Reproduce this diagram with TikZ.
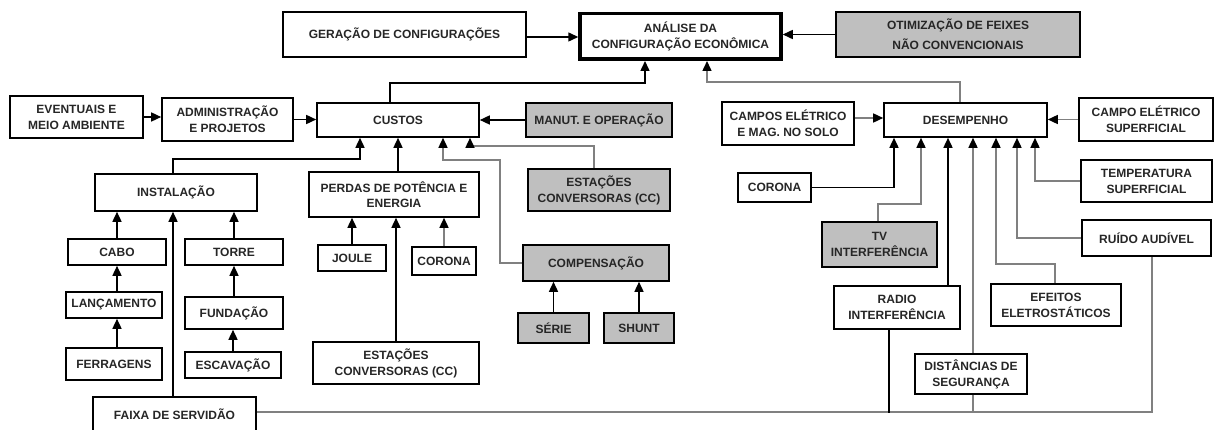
\documentclass[tikz,border=0pt]{standalone}
\usepackage{fontspec}
\setmainfont{Liberation Sans}
\usetikzlibrary{arrows.meta}
\tikzset{
 box/.style={draw, line width=1.6pt, fill=white, inner sep=0pt, align=center, font=\fontsize{12}{16}\selectfont\bfseries, text=black!85},
 gbox/.style={box, fill=black!25},
 arr/.style={line width=1.5pt, -{Triangle[width=9pt,length=10pt]}},
 garr/.style={line width=1.5pt, draw=black!50, -{Triangle[width=9pt,length=10pt,color=black]}},
 bline/.style={line width=1.5pt},
 gline/.style={line width=1.5pt, draw=black!50},
}
\begin{document}
\begin{tikzpicture}[x=1pt,y=-1pt]
\useasboundingbox (0,0) rectangle (1218,430);
\clip (0,0) rectangle (1218,430);
% top row
\node[box, minimum width=243pt, minimum height=45pt] (ger) at (404.5,34.5) {GERAÇÃO DE CONFIGURAÇÕES};
\node[box, line width=3.5pt, minimum width=201pt, minimum height=45.5pt] (ana) at (680.5,36.5) {ANÁLISE DA\\CONFIGURAÇÃO ECONÔMICA};
\node[gbox, minimum width=244pt, minimum height=45pt, font=\fontsize{12}{20}\selectfont\bfseries] (oti) at (958,34.5) {OTIMIZAÇÃO DE FEIXES\\NÃO CONVENCIONAIS};
% second row
\node[box, minimum width=133pt, minimum height=42pt] (eve) at (76.5,117) {EVENTUAIS E\\MEIO AMBIENTE};
\node[box, minimum width=131pt, minimum height=43pt] (adm) at (227.5,119.5) {ADMINISTRAÇÃO\\E PROJETOS};
\node[box, minimum width=162pt, minimum height=34pt] (cus) at (398,120) {CUSTOS};
\node[gbox, minimum width=146pt, minimum height=34pt] (man) at (599,120) {MANUT. E OPERAÇÃO};
\node[box, minimum width=132pt, minimum height=43pt] (cam) at (788,123.5) {CAMPOS ELÉTRICO\\E MAG. NO SOLO};
\node[box, minimum width=163pt, minimum height=34pt] (des) at (965.5,120) {DESEMPENHO};
\node[box, minimum width=134pt, minimum height=43pt] (cas) at (1146,119.5) {CAMPO ELÉTRICO\\SUPERFICIAL};
% third row
\node[box, minimum width=162pt, minimum height=37pt] (ins) at (176,192.5) {INSTALAÇÃO};
\node[box, minimum width=170pt, minimum height=45pt, font=\fontsize{12}{15}\selectfont\bfseries] (per) at (394,194.5) {PERDAS DE POTÊNCIA E\\ENERGIA};
\node[gbox, minimum width=142pt, minimum height=42pt] (est1) at (599,190) {ESTAÇÕES\\CONVERSORAS (CC)};
\node[box, minimum width=73pt, minimum height=29pt] (cor2) at (774.5,187.5) {CORONA};
\node[box, minimum width=131pt, minimum height=42pt] (tem) at (1146.5,181) {TEMPERATURA\\SUPERFICIAL};
% lower left
\node[box, minimum width=98pt, minimum height=26pt] (cabo) at (117,252) {CABO};
\node[box, minimum width=98pt, minimum height=26pt] (torre) at (234,252) {TORRE};
\node[box, minimum width=96pt, minimum height=26pt] (lan) at (114,305) {LANÇAMENTO};
\node[box, minimum width=98pt, minimum height=32pt] (fun) at (234,313) {FUNDAÇÃO};
\node[box, minimum width=96pt, minimum height=32pt] (fer) at (114,364) {FERRAGENS};
\node[box, minimum width=96pt, minimum height=26pt] (esc) at (233,365) {ESCAVAÇÃO};
\node[box, minimum width=163pt, minimum height=34pt] (fai) at (174.5,414) {FAIXA DE SERVIDÃO};
% lower middle
\node[box, minimum width=68pt, minimum height=26pt] (jou) at (352,258) {JOULE};
\node[box, minimum width=64pt, minimum height=28pt] (cor1) at (444,261) {CORONA};
\node[box, minimum width=166pt, minimum height=42pt] (est2) at (396,363) {ESTAÇÕES\\CONVERSORAS (CC)};
\node[gbox, minimum width=146pt, minimum height=36pt] (comp) at (596,263) {COMPENSAÇÃO};
\node[gbox, minimum width=71pt, minimum height=30pt] (ser) at (553.5,328) {SÉRIE};
\node[gbox, minimum width=70pt, minimum height=30pt] (shu) at (639,328) {SHUNT};
% lower right
\node[gbox, minimum width=115pt, minimum height=45pt] (tv) at (879.5,244.5) {TV\\INTERFERÊNCIA};
\node[box, minimum width=126pt, minimum height=43pt] (rad) at (897,307.5) {RADIO\\INTERFERÊNCIA};
\node[box, minimum width=112pt, minimum height=40pt] (dis) at (971,374) {DISTÂNCIAS DE\\SEGURANÇA};
\node[box, minimum width=130pt, minimum height=42pt] (efe) at (1056,305) {EFEITOS\\ELETROSTÁTICOS};
\node[box, minimum width=129pt, minimum height=36pt] (rui) at (1146.5,238) {RUÍDO AUDÍVEL};
% connectors
\draw[arr] (eve.east) -- (eve.east -| adm.west);
\draw[arr] (adm.east) -- (adm.east -| cus.west);
\draw[arr] ([yshift=-2.5pt]ger.east) -- ([yshift=-2.5pt]ger.east -| ana.west);
\draw[arr] (oti.west) -- (oti.west -| ana.east);
\draw[arr] ([xshift=-8pt]cus.north) -- ++(0,-19) -| ([xshift=-35.5pt]ana.south);
\draw[garr] ([xshift=-5.5pt]des.north) -- ++(0,-20) -| ([xshift=26.5pt]ana.south);
\draw[arr] (man.west) -- (man.west -| cus.east);
\draw[arr] ([xshift=-3pt]ins.north) -- ++(0,-14) -| ([xshift=-38pt]cus.south);
\draw[arr] (cus.south |- per.north) -- (cus.south);
\draw[garr] (comp.west) -- ++(-22,0) -- ++(0,-103) -| ([xshift=45pt]cus.south);
\draw[garr] ([xshift=-5pt]est1.north) -- ++(0,-22) -| ([xshift=72pt]cus.south);
\draw[arr] (cabo.north) -- (cabo.north |- ins.south);
\draw[arr] (torre.north) -- (torre.north |- ins.south);
\draw[arr] ([xshift=3pt]lan.north) -- ([xshift=3pt]lan.north |- cabo.south);
\draw[arr] ([xshift=3pt]fer.north) -- ([xshift=3pt]fer.north |- lan.south);
\draw[arr] (fun.north) -- (fun.north |- torre.south);
\draw[arr] (esc.north) -- (esc.north |- fun.south);
\draw[arr] ([xshift=-1.5pt]fai.north) -- ([xshift=-1.5pt]fai.north |- ins.south);
\draw[arr] (jou.north) -- (jou.north |- per.south);
\draw[garr] (cor1.north) -- (cor1.north |- per.south);
\draw[arr] (est2.north) -- (est2.north |- per.south);
\draw[arr] (ser.north) -- (ser.north |- comp.south);
\draw[arr] (shu.north) -- (shu.north |- comp.south);
\draw[garr] ([yshift=5.5pt]cam.east) -- ([yshift=5.5pt]cam.east -| des.west);
\draw[garr] (cas.west) -- (cas.west -| des.east);
\draw[arr] (cor2.east) -| ([xshift=-71.5pt]des.south);
\draw[garr] ([xshift=-1.5pt]tv.north) -- ++(0,-17) -| ([xshift=-44.5pt]des.south);
\draw[arr] ([xshift=51pt]rad.north) -- ([xshift=51pt]rad.north |- des.south);
\draw[garr] ([xshift=2pt]dis.north) -- ([xshift=2pt]dis.north |- des.south);
\draw[garr] ([xshift=-1pt]efe.north) -- ++(0,-19) -| ([xshift=30.5pt]des.south);
\draw[garr] (rui.west) -| ([xshift=51.5pt]des.south);
\draw[garr] (tem.west) -| ([xshift=69.5pt]des.south);
\draw[gline] ([yshift=2pt]fai.east) -| ([xshift=5.5pt]rui.south);
\draw[bline] ([xshift=-8pt]rad.south) -- ++(0,83);
\draw[gline] ([xshift=2pt]dis.south) -- ++(0,18);
\end{tikzpicture}
\end{document}
